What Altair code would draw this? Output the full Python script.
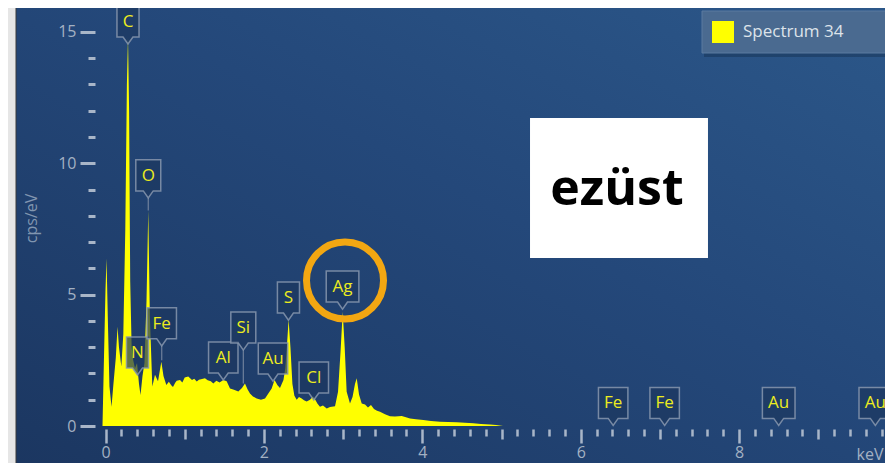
import altair as alt
import pandas as pd

# ---------------- data ----------------
energy_kev = [-0.038, -0.020, 0.000, 0.013, 0.030, 0.050, 0.076, 0.100, 0.130, 0.152,
              0.170, 0.200, 0.225, 0.250, 0.270, 0.284, 0.298, 0.312, 0.330, 0.350,
              0.372, 0.398, 0.423, 0.442, 0.467, 0.492, 0.518, 0.540, 0.560, 0.591,
              0.625, 0.663, 0.705, 0.732, 0.768, 0.800, 0.830, 0.852, 0.880, 0.899,
              0.941, 0.970, 1.000, 1.045, 1.092, 1.120, 1.152, 1.180, 1.206, 1.256,
              1.290, 1.330, 1.361, 1.400, 1.440, 1.487, 1.530, 1.572, 1.622, 1.677,
              1.723, 1.761, 1.793, 1.824, 1.862, 1.909, 1.963, 2.014, 2.058, 2.098,
              2.134, 2.172, 2.203, 2.247, 2.270, 2.292, 2.312, 2.335, 2.360, 2.385,
              2.414, 2.443, 2.477, 2.506, 2.540, 2.582, 2.620, 2.645, 2.677, 2.708,
              2.746, 2.793, 2.835, 2.898, 2.936, 2.967, 2.995, 3.020, 3.045, 3.087,
              3.119, 3.150, 3.172, 3.201, 3.235, 3.277, 3.314, 3.352, 3.390, 3.428,
              3.466, 3.529, 3.592, 3.655, 3.740, 3.794, 3.845, 3.920, 4.013, 4.110,
              4.223, 4.325, 4.434, 4.539, 4.644, 4.741, 4.855, 4.931, 5.019]
counts_cps = [0.0, 2.5, 5.2, 6.38, 4.0, 1.5, 0.73, 1.6, 2.6, 3.78,
              3.0, 2.26, 3.5, 7.5, 13.0, 14.8, 12.0, 5.5, 3.0, 2.5,
              2.2, 2.4, 1.6, 1.18, 1.9, 2.4, 4.8, 8.2, 4.2, 1.5,
              1.95, 1.7, 2.45, 1.9, 1.56, 1.68, 1.55, 1.48, 1.65, 1.72,
              1.75, 1.66, 1.85, 1.88, 1.75, 1.80, 1.69, 1.76, 1.78, 1.82,
              1.74, 1.70, 1.62, 1.72, 1.66, 1.75, 1.70, 1.43, 1.38, 1.31,
              1.45, 1.62, 1.40, 1.24, 1.12, 1.05, 1.00, 1.05, 1.25, 1.43,
              1.75, 1.55, 1.45, 1.75, 2.2, 3.1, 4.05, 3.0, 1.6, 1.15,
              1.0, 1.1, 1.05, 0.98, 0.93, 1.0, 1.12, 1.02, 0.85, 0.73,
              0.78, 0.67, 0.72, 0.75, 1.3, 2.8, 4.35, 3.0, 1.3, 0.86,
              1.1, 1.6, 1.82, 1.2, 0.86, 0.82, 0.70, 0.80, 0.65, 0.58,
              0.54, 0.45, 0.37, 0.36, 0.38, 0.33, 0.29, 0.26, 0.23, 0.19,
              0.16, 0.15, 0.14, 0.12, 0.10, 0.08, 0.06, 0.04, 0.0]
series_name = "Spectrum 34"

# element labels (tip position of each callout)
el_names = ["C", "O", "N", "Fe", "Al", "Si", "Au", "S", "Cl", "Ag", "Fe", "Fe", "Au", "Au"]
el_kev = [0.284, 0.540, 0.404, 0.710, 1.487, 1.740, 2.115, 2.310, 2.630, 2.993, 6.41, 7.06, 8.50, 9.72]
el_tip = [14.54, 8.68, 1.94, 3.05, 1.75, 2.89, 1.71, 4.03, 0.99, 4.45, 0.02, 0.02, 0.02, 0.02]
el_box = ["n", "m", "n", "w", "w", "m", "w", "n", "w", "x", "w", "w", "x", "x"]

# leader lines from callout tip down to the peak
lead_kev = [0.540, 0.710, 1.740]
lead_top = [8.68, 3.05, 2.89]
lead_bottom = [8.2, 2.5, 1.62]

# highlighted peak (orange ring) and the annotation box
ring_kev = [3.024]
ring_cps = [5.54]
note_text = ["ezüst"]
note_box_kev = [5.36, 7.607]
note_box_cps = [6.395, 11.72]
note_text_pos = [6.458, 8.41]

x_ticks = [round(0.2 * i, 1) for i in range(50)]
y_ticks = list(range(16))

# ---------------- scales / axes ----------------
xscale = alt.Scale(domain=[-0.1326, 9.8421], nice=False, zero=False)
yscale = alt.Scale(domain=[0, 15.91], nice=False, zero=False)

FONT = "Open Sans"
TICK = "#a9b6c8"
LAB = "#a3b1c3"

xaxis = alt.Axis(
    values=x_ticks,
    labelExpr="datum.value % 2 === 0 ? format(datum.value, 'd') : ''",
    tickSize={"condition": [{"test": "datum.value % 2 === 0", "value": 14},
                            {"test": "datum.value % 1 === 0", "value": 10}],
              "value": 7},
    offset=3, tickWidth=2.5, tickColor=TICK, domain=False, grid=False,
    labelColor=LAB, labelFont=FONT, labelFontSize=16, labelPadding=1,
    labelFlush=False, labelOverlap=False,
    title="keV", titleColor=LAB, titleFont=FONT, titleFontSize=16,
    titleFontWeight="normal", titleX=788, titleY=25, titleAlign="right",
    titleBaseline="middle", titleAnchor="end", zindex=1,
)
yaxis = alt.Axis(
    values=y_ticks,
    labelExpr="datum.value % 5 === 0 ? format(datum.value, 'd') : ''",
    tickSize={"condition": {"test": "datum.value % 5 === 0", "value": 15}, "value": 7},
    tickWidth=3, tickColor=TICK, domain=False, grid=False,
    labelColor=LAB, labelFont=FONT, labelFontSize=16, labelPadding=4,
    labelFlush=False, labelOverlap=False,
    title="cps/eV", titleColor="#8196b0", titleFont=FONT, titleFontSize=16,
    titleFontWeight="normal", titleAngle=-90, titleX=-64, titleY=210,
    titleAlign="center", titleBaseline="middle", zindex=1,
)


def X(field):
    return alt.X(field, scale=xscale, axis=xaxis)


def Y(field, **kw):
    return alt.Y(field, scale=yscale, axis=yaxis, **kw)


# ---------------- layers ----------------
one = pd.DataFrame({"a": [0]})

grad = alt.LinearGradient(
    gradient="linear",
    stops=[alt.GradientStop(color="#1b3660", offset=0),
           alt.GradientStop(color="#24487a", offset=0.55),
           alt.GradientStop(color="#2c588a", offset=1)],
    x1=0, y1=1, x2=1, y2=0,
)
background = alt.Chart(one).mark_rect(color=grad, stroke="#3a3a3a", strokeWidth=1).encode(
    x=alt.value(-79), x2=alt.value(820), y=alt.value(-6), y2=alt.value(470)
)

note_df = pd.DataFrame({"x": [note_box_kev[0]], "x2": [note_box_kev[1]],
                        "y": [note_box_cps[0]], "y2": [note_box_cps[1]]})
note_box = alt.Chart(note_df).mark_rect(color="white").encode(
    x=X("x:Q"), x2="x2:Q", y=Y("y:Q"), y2="y2:Q",
)
note_df2 = pd.DataFrame({"x": [note_text_pos[0]], "y": [note_text_pos[1]], "t": note_text})
note = alt.Chart(note_df2).mark_text(
    font=FONT, fontSize=50, fontWeight="bold", color="black", baseline="alphabetic", align="center"
).encode(x=X("x:Q"), y=Y("y:Q"), text="t:N")

spec_df = pd.DataFrame({"keV": energy_kev, "cps": counts_cps, "series": series_name})
area = alt.Chart(spec_df).mark_area(clip=True, interpolate="linear", fillOpacity=1).encode(
    x=X("keV:Q"),
    y=Y("cps:Q", stack=None),
    color=alt.Color("series:N", scale=alt.Scale(domain=[series_name], range=["#ffff00"]),
                    legend=alt.Legend(title=None, orient="none", legendX=617, legendY=13,
                                      symbolType="square", symbolSize=484, symbolStrokeWidth=0,
                                      symbolOpacity=1, labelFont=FONT, labelFontSize=17,
                                      labelColor="#dde3ea", labelOffset=9, padding=0)),
)

ring_df = pd.DataFrame({"x": ring_kev, "y": ring_cps})
ring = alt.Chart(ring_df).mark_point(
    shape="circle", size=5929, filled=False, stroke="#f3a712", strokeWidth=7, opacity=1
).encode(x=X("x:Q"), y=Y("y:Q"))

lead_df = pd.DataFrame({"x": lead_kev, "y": lead_top, "y2": lead_bottom})
leaders = alt.Chart(lead_df).mark_rule(color="#6f819c", strokeWidth=1.2).encode(
    x=X("x:Q"), y=Y("y:Q"), y2="y2:Q",
)


def callout(hw):
    return (f"M{-hw},-2.38L{hw},-2.38L{hw},-0.44L0.31,-0.44L0,0"
            f"L-0.31,-0.44L{-hw},-0.44Z")


el_df = pd.DataFrame({"name": el_names, "x": el_kev, "y": el_tip, "w": el_box})
boxes = alt.Chart(el_df).mark_point(
    filled=True, size=1024, fill="#1c3860", fillOpacity=0.7,
    stroke="#8797ae", strokeWidth=1.5, strokeOpacity=0.85,
).encode(
    x=X("x:Q"), y=Y("y:Q"),
    shape=alt.Shape("w:N", scale=alt.Scale(domain=["n", "m", "w", "x"],
                                           range=[callout(0.69), callout(0.78),
                                                  callout(0.92), callout(1.02)]),
                    legend=None),
)
texts = alt.Chart(el_df).mark_text(
    font=FONT, fontSize=17, color="#ecec1e", dy=-22, baseline="middle", align="center"
).encode(x=X("x:Q"), y=Y("y:Q"), text="name:N")

legend_shadow = alt.Chart(one).mark_rect(color="#0f2440", opacity=0.35).encode(
    x=alt.value(609), x2=alt.value(830), y=alt.value(6), y2=alt.value(49)
)
legend_box = alt.Chart(one).mark_rect(color="#4a6a90", stroke="#5b7aa0", strokeWidth=1).encode(
    x=alt.value(607), x2=alt.value(830), y=alt.value(3), y2=alt.value(45)
)

chart = alt.layer(
    background, note_box, note, area, ring, leaders, boxes, texts, legend_shadow, legend_box
).properties(
    width=790, height=418,
    padding={"left": 87, "top": 0, "right": 0, "bottom": 37},
    autosize=alt.AutoSizeParams(type="none"),
    background="#e6e6e6",
).configure_view(stroke=None)

chart.save("out.html", embed_options={"renderer": "svg", "actions": False})
